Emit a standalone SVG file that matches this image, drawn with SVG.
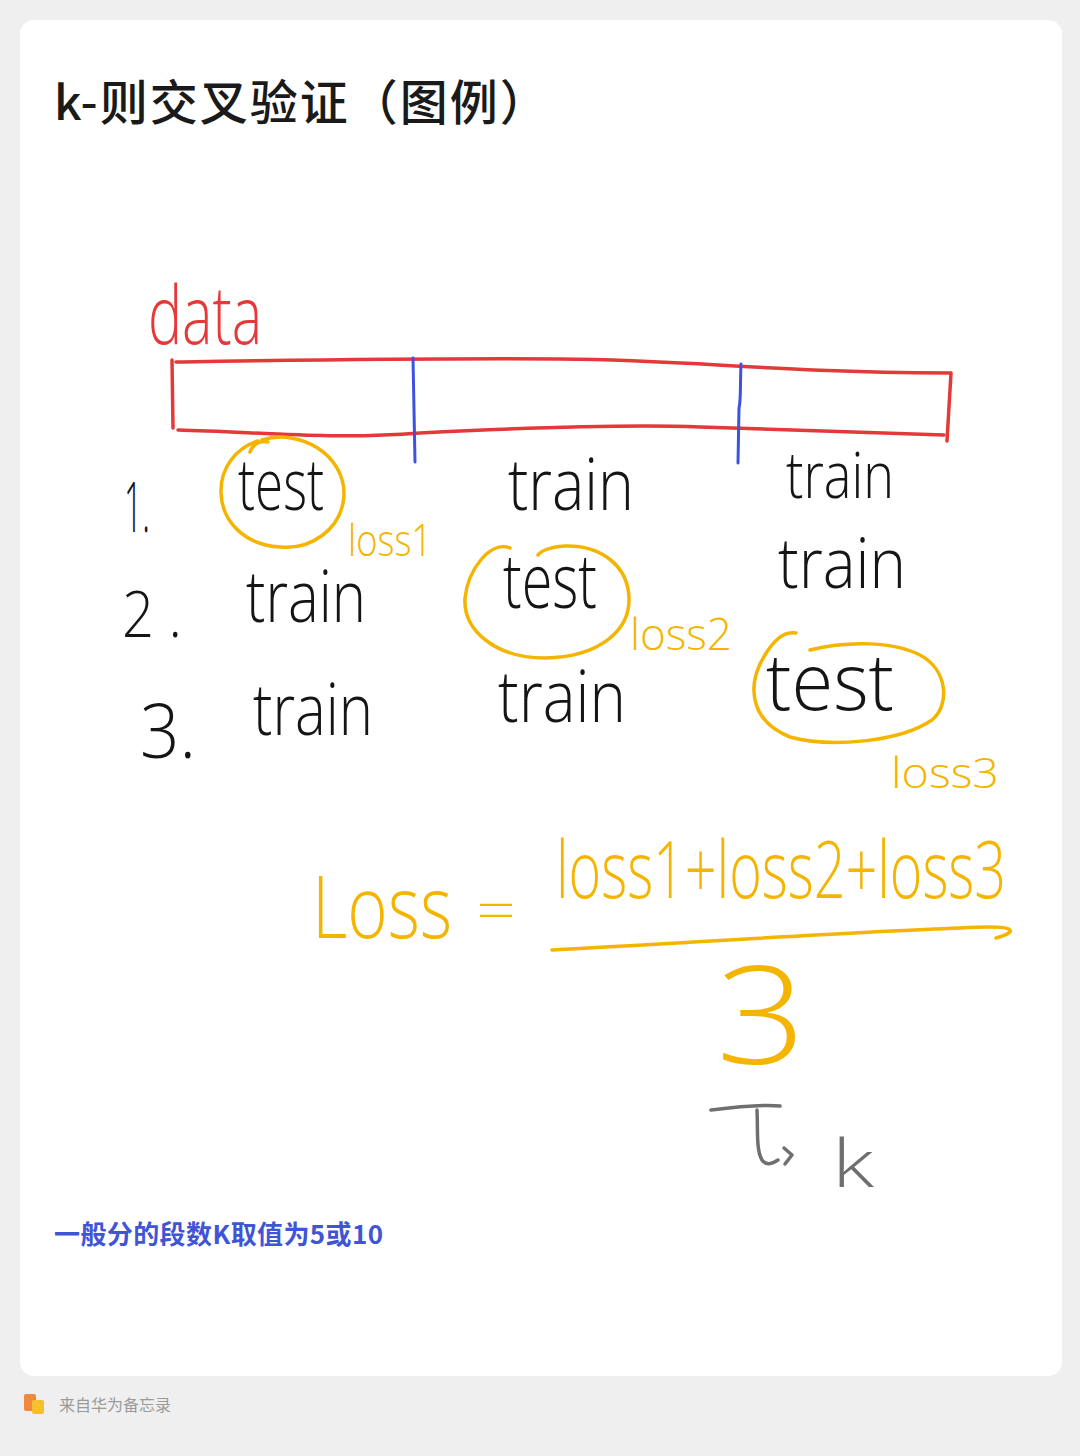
<svg xmlns="http://www.w3.org/2000/svg" width="1080" height="1456" viewBox="0 0 1080 1456">
<style>
.hw{font-family:"Open Sans","Lato","DejaVu Sans",sans-serif;font-weight:300}
.blk{fill:#151515}
.yel{fill:#f4b400}
.ys{fill:none;stroke:#f4b400;stroke-width:3.5;stroke-linecap:round;stroke-linejoin:round}
.rs{fill:none;stroke:#e53838;stroke-width:3.5;stroke-linecap:round}
.bs{fill:none;stroke:#3d52e0;stroke-width:3;stroke-linecap:round}
.gs{fill:none;stroke:#6f6f6f;stroke-width:3.5;stroke-linecap:round;stroke-linejoin:round}
</style>
<rect x="0" y="0" width="1080" height="1456" fill="#efefef"/>
<rect x="20" y="20" width="1042" height="1356" rx="14" fill="#ffffff"/>
<g id="title">
<text x="54" y="120" font-family="'Noto Sans CJK SC','Noto Sans',sans-serif" font-size="48" font-weight="500" letter-spacing="2" fill="#1a1a1a">k-则交叉验证（图例）</text>
</g>
<g id="data-bar">
<text class="hw" x="148" y="344" font-size="82" fill="#e53838" textLength="114" lengthAdjust="spacingAndGlyphs">data</text>
<path class="rs" d="M176,362 C300,360 420,358 560,359 C700,360 760,372 950,373"/>
<path class="rs" d="M178,430 C260,432 330,440 420,433 C520,428 620,424 700,427 C800,430 880,433 944,435"/>
<path class="rs" d="M172,360 L173,428"/>
<path class="rs" d="M951,373 L947,441"/>
</g>
<g id="splits">
<path class="bs" d="M413,358 L415,462"/>
<path class="bs" d="M741,364 C740,390 741,400 739,408 L738,463"/>
</g>
<g id="row1">
<text class="hw blk" x="124" y="532" font-size="70" textLength="26" lengthAdjust="spacingAndGlyphs">1.</text>
<text class="hw blk" x="238" y="510" font-size="72" textLength="86" lengthAdjust="spacingAndGlyphs">test</text>
<text class="hw blk" x="508" y="510" font-size="72" textLength="126" lengthAdjust="spacingAndGlyphs">train</text>
<text class="hw blk" x="786" y="498" font-size="64" textLength="108" lengthAdjust="spacingAndGlyphs">train</text>
<path class="ys" d="M268,442 C258,440 252,446 250,452 M262,440 C300,428 345,455 344,495 C342,530 310,550 280,547 C245,545 222,522 221,493 C220,468 236,448 258,441"/>
<text class="hw yel" x="348" y="556" font-size="44" textLength="84" lengthAdjust="spacingAndGlyphs">loss1</text>
</g>
<g id="row2">
<text class="hw blk" x="122" y="637" font-size="64" textLength="60" lengthAdjust="spacingAndGlyphs">2 .</text>
<text class="hw blk" x="246" y="622" font-size="72" textLength="120" lengthAdjust="spacingAndGlyphs">train</text>
<text class="hw blk" x="503" y="608" font-size="76" textLength="94" lengthAdjust="spacingAndGlyphs">test</text>
<text class="hw blk" x="778" y="588" font-size="70" textLength="128" lengthAdjust="spacingAndGlyphs">train</text>
<path class="ys" d="M510,548 C490,540 468,570 465,598 C463,630 495,658 545,658 C600,657 630,630 629,598 C628,565 600,545 565,546 C548,547 540,552 538,555"/>
<text class="hw yel" x="630" y="650" font-size="44" textLength="102" lengthAdjust="spacingAndGlyphs">loss2</text>
</g>
<g id="row3">
<text class="hw blk" x="140" y="758" font-size="76" textLength="56" lengthAdjust="spacingAndGlyphs">3.</text>
<text class="hw blk" x="253" y="735" font-size="72" textLength="120" lengthAdjust="spacingAndGlyphs">train</text>
<text class="hw blk" x="498" y="722" font-size="72" textLength="128" lengthAdjust="spacingAndGlyphs">train</text>
<text class="hw blk" x="766" y="710" font-size="80" textLength="128" lengthAdjust="spacingAndGlyphs">test</text>
<path class="ys" d="M796,633 C780,630 768,648 760,664 C748,690 752,722 790,737 C830,748 900,742 932,720 C950,705 948,670 920,655 C895,642 850,640 810,650"/>
<text class="hw yel" x="891" y="788" font-size="42" textLength="108" lengthAdjust="spacingAndGlyphs">loss3</text>
</g>
<g id="formula">
<text class="hw yel" x="312" y="938" font-size="86" textLength="140" lengthAdjust="spacingAndGlyphs">Loss</text>
<text class="hw yel" x="476" y="930" font-size="56" textLength="40" lengthAdjust="spacingAndGlyphs">=</text>
<text class="hw yel" x="556" y="898" font-size="80" textLength="450" lengthAdjust="spacingAndGlyphs">loss1+loss2+loss3</text>
<path class="ys" d="M552,950 C700,942 850,932 960,928 C1000,926 1012,927 1010,932 C1006,935 1000,937 996,938"/>
<text class="hw yel" x="716" y="1064" font-size="136" textLength="90" lengthAdjust="spacingAndGlyphs">3</text>
</g>
<g id="k-note">
<path class="gs" d="M711,1110 C735,1107 760,1104 780,1106"/>
<path class="gs" d="M757,1110 C758,1130 756,1150 762,1160 C766,1166 772,1164 778,1160"/>
<path class="gs" d="M784,1148 L792,1155 L785,1164"/>
<text class="hw" x="832" y="1187" font-size="66" fill="#6f6f6f" textLength="42" lengthAdjust="spacingAndGlyphs">k</text>
</g>
<g id="note">
<text x="54" y="1244" font-family="'Noto Sans CJK SC','Noto Sans',sans-serif" font-size="26" font-weight="700" letter-spacing="0.4" fill="#3f55d6">一般分的段数K取值为5或10</text>
</g>
<g id="footer">
<rect x="24" y="1394" width="12" height="17" rx="2" fill="#ef8a3c"/>
<rect x="32" y="1400" width="12" height="14" rx="2" fill="#f6bf2e"/>
<text x="59" y="1411" font-family="'Noto Sans CJK SC','Noto Sans',sans-serif" font-size="16" fill="#9a9a9a">来自华为备忘录</text>
</g>
</svg>
